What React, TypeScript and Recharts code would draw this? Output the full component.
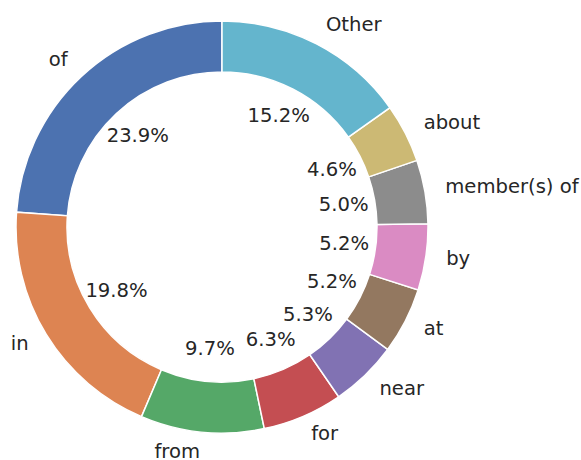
import React from 'react';
import { PieChart, Pie, Cell } from 'recharts';

const labels = ['of', 'in', 'from', 'for', 'near', 'at', 'by', 'member(s) of', 'about', 'Other'];
const shares = [23.9, 19.8, 9.7, 6.3, 5.3, 5.2, 5.2, 5.0, 4.6, 15.2];
const colors = ['#4C72B0', '#DD8452', '#55A868', '#C44E52', '#8172B3', '#937860', '#DA8BC3', '#8C8C8C', '#CCB974', '#64B5CD'];

const data = labels.map((name, i) => ({ name, value: shares[i] }));

const RAD = Math.PI / 180;
const FONT = '"DejaVu Sans", sans-serif';

function renderLabel(props: any) {
  const { cx, cy, midAngle, outerRadius, name, value } = props;
  const c = Math.cos(-midAngle * RAD);
  const s = Math.sin(-midAngle * RAD);
  const lx = cx + outerRadius * 1.1 * c;
  const ly = cy + outerRadius * 1.1 * s;
  const px = cx + outerRadius * 0.6 * c;
  const py = cy + outerRadius * 0.6 * s;
  return (
    <g>
      <text x={lx} y={ly} dy="0.26em" textAnchor={c < 0 ? 'end' : 'start'} fill="#262626" fontSize={19.6} fontFamily={FONT}>
        {name}
      </text>
      <text x={px} y={py} dy="0.26em" textAnchor="middle" fill="#262626" fontSize={19.6} fontFamily={FONT}>
        {value.toFixed(1)}%
      </text>
    </g>
  );
}

export default function App() {
  return (
    <div style={{ position: 'absolute', top: 0, left: 0, background: '#fff' }}>
      <PieChart width={581} height={460} margin={{ top: 0, right: 0, bottom: 0, left: 0 }}>
        <Pie
          data={data}
          dataKey="value"
          nameKey="name"
          cx={222}
          cy={227}
          innerRadius={155}
          outerRadius={206}
          startAngle={90}
          endAngle={450}
          stroke="#fff"
          strokeWidth={1.5}
          label={renderLabel}
          labelLine={false}
          isAnimationActive={false}
        >
          {data.map((entry, idx) => (
            <Cell key={idx} fill={colors[idx]} />
          ))}
        </Pie>
      </PieChart>
    </div>
  );
}
